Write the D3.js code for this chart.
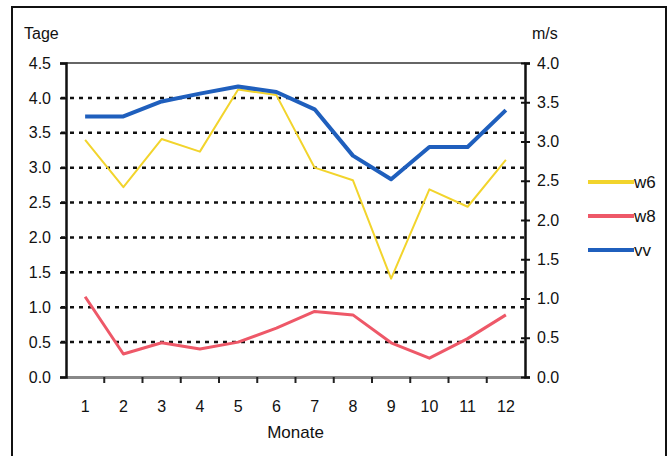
<!DOCTYPE html>
<html>
<head>
<meta charset="utf-8">
<script src="https://cdn.jsdelivr.net/npm/d3@7/dist/d3.min.js"></script>
<style>
  body { margin: 0; background: #fff; }
  svg { display: block; font-family: "Liberation Sans", Arial, sans-serif; }
  .axis text { font-size: 16px; fill: #111; }
</style>
</head>
<body>
<div class="container"></div>
<script>
// months on the x axis
const months = [1, 2, 3, 4, 5, 6, 7, 8, 9, 10, 11, 12];

// days (left axis)
const w6 = [3.40, 2.72, 3.41, 3.23, 4.12, 4.04, 3.00, 2.82, 1.41, 2.69, 2.44, 3.11];
const w8 = [1.15, 0.33, 0.49, 0.40, 0.50, 0.70, 0.94, 0.89, 0.49, 0.27, 0.55, 0.89];

// wind speed m/s (right axis)
const vv = [3.32, 3.32, 3.51, 3.61, 3.70, 3.63, 3.41, 2.82, 2.52, 2.93, 2.93, 3.40];

const leftTicks = [0, 0.5, 1, 1.5, 2, 2.5, 3, 3.5, 4, 4.5];
const rightTicks = [0, 0.5, 1, 1.5, 2, 2.5, 3, 3.5, 4];
const gridTicks = [0.5, 1, 1.5, 2, 2.5, 3, 3.5, 4];

const series = [
    { name: "w6", values: w6, axis: "left", color: "#f2d42c", width: 2 },
    { name: "w8", values: w8, axis: "left", color: "#ee5868", width: 3 },
    { name: "vv", values: vv, axis: "right", color: "#1f5fbd", width: 4 }
];

const W = 670, H = 456;
const plot = { left: 66, right: 525, top: 63, bottom: 377 };

const svg = d3.select(".container")
    .append("svg")
    .attr("width", W)
    .attr("height", H);

// outer frame
svg.append("rect")
    .attr("x", 12).attr("y", 7)
    .attr("width", 654).attr("height", 470)
    .attr("fill", "none")
    .attr("stroke", "#111")
    .attr("stroke-width", 2);

const x = d3.scaleBand()
    .domain(months)
    .range([plot.left, plot.right]);

const yLeft = d3.scaleLinear()
    .domain([0, 4.5])
    .range([plot.bottom, plot.top]);

const yRight = d3.scaleLinear()
    .domain([0, 4])
    .range([plot.bottom, plot.top]);

// top border of the plot area
svg.append("line")
    .attr("x1", plot.left).attr("x2", plot.right)
    .attr("y1", plot.top).attr("y2", plot.top)
    .attr("stroke", "#333")
    .attr("stroke-width", 1.5);

// dotted gridlines
svg.append("g")
    .selectAll("line")
    .data(gridTicks)
    .join("line")
    .attr("x1", plot.left - 5)
    .attr("x2", plot.right)
    .attr("y1", d => yLeft(d))
    .attr("y2", d => yLeft(d))
    .attr("stroke", "#111")
    .attr("stroke-width", 2.5)
    .attr("stroke-dasharray", "4,5");

// bottom axis with ticks at category boundaries
const xAxis = svg.append("g")
    .attr("class", "axis")
    .attr("transform", `translate(0, ${plot.bottom})`)
    .call(d3.axisBottom(x).tickSize(0).tickPadding(23));
xAxis.select(".domain").attr("stroke", "#888").attr("stroke-width", 3);
xAxis.selectAll("text").attr("dy", "0.35em").attr("y", 29);

svg.append("g")
    .selectAll("line")
    .data(months.slice(1))
    .join("line")
    .attr("x1", d => x(d)).attr("x2", d => x(d))
    .attr("y1", plot.bottom).attr("y2", plot.bottom + 6)
    .attr("stroke", "#222")
    .attr("stroke-width", 2);

// left axis
const leftAxis = svg.append("g")
    .attr("class", "axis")
    .attr("transform", `translate(${plot.left}, 0)`)
    .call(d3.axisLeft(yLeft)
        .tickValues(leftTicks)
        .tickFormat(d3.format(".1f"))
        .tickSizeOuter(0)
        .tickSize(6)
        .tickPadding(9));
leftAxis.select(".domain").attr("stroke", "#111").attr("stroke-width", 2.5);
leftAxis.selectAll(".tick line").attr("stroke", "#111").attr("stroke-width", 2);

// right axis
const rightAxis = svg.append("g")
    .attr("class", "axis")
    .attr("transform", `translate(${plot.right}, 0)`)
    .call(d3.axisRight(yRight)
        .tickValues(rightTicks)
        .tickFormat(d3.format(".1f"))
        .tickSizeOuter(0)
        .tickSize(5)
        .tickPadding(7));
rightAxis.select(".domain").attr("stroke", "#111").attr("stroke-width", 2.5);
rightAxis.selectAll(".tick line")
    .attr("x1", -4)
    .attr("stroke", "#111").attr("stroke-width", 2);

// axis titles
svg.append("text")
    .attr("x", 24).attr("y", 39)
    .attr("font-size", 16)
    .attr("fill", "#111")
    .text("Tage");

svg.append("text")
    .attr("x", 532).attr("y", 39)
    .attr("font-size", 16)
    .attr("fill", "#111")
    .text("m/s");

svg.append("text")
    .attr("x", (plot.left + plot.right) / 2)
    .attr("y", 438)
    .attr("text-anchor", "middle")
    .attr("font-size", 17)
    .attr("fill", "#111")
    .text("Monate");

// series lines
const lineFor = s => d3.line()
    .x((d, i) => x(months[i]) + x.bandwidth() / 2)
    .y(d => (s.axis === "left" ? yLeft : yRight)(d));

svg.append("g")
    .selectAll("path")
    .data(series)
    .join("path")
    .attr("d", s => lineFor(s)(s.values))
    .attr("fill", "none")
    .attr("stroke", s => s.color)
    .attr("stroke-width", s => s.width)
    .attr("stroke-linejoin", "round");

// legend
const legend = svg.append("g")
    .selectAll("g")
    .data(series)
    .join("g")
    .attr("transform", (d, i) => `translate(588, ${182 + i * 34})`);

legend.append("line")
    .attr("x1", 0).attr("x2", 46)
    .attr("stroke", d => d.color)
    .attr("stroke-width", 4);

legend.append("text")
    .attr("x", 46)
    .attr("dy", "0.35em")
    .attr("font-size", 17)
    .attr("fill", "#111")
    .text(d => d.name);
</script>
</body>
</html>
